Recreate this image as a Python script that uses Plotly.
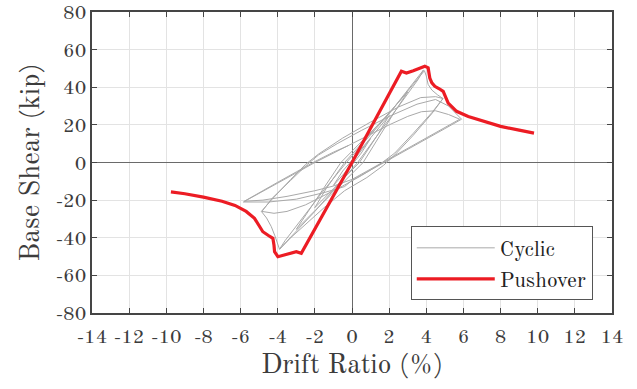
import plotly.graph_objects as go

# Cyclic test (drift %, base shear kip), in loading order
cyc_drift = [0.0, 1.0, 0.5, 0.1, -1.0, -0.5, -0.1,
             2.0, 1.4, 0.4, -2.0, -1.4, -0.4,
             3.0, 2.3, 0.6, -3.0, -2.3, -0.6,
             2.0, 3.85, 3.55, 1.5, 0.3, -2.0, -3.9, -3.6, -1.5, -0.3, 2.0, 3.9,
             4.0, 4.1, 4.3, 4.6, 4.9,
             4.3, 3.3, 2.3, 1.7, 0.8, -0.4, -1.5, -2.5, -3.3, -3.9,
             -4.0, -4.15, -4.35, -4.6, -4.88,
             -4.3, -3.3, -2.5, -1.8, -0.5, 1.0, 2.5, 3.7, 4.5, 4.9,
             4.3, 3.3, 2.3, 1.5, 0.5, -0.5, -1.5, -2.5, -3.5, -4.2, -4.85,
             -4.3, -3.3, -2.4, -1.8, -0.8, 0.5, 2.0, 3.5, 4.5, 5.2, 5.9,
             5.0, 4.0, 3.0, 2.0, 1.0, 0.0, -0.4, -1.5, -3.0, -4.5, -5.85,
             -5.0, -4.0, -3.0, -2.0, -1.0, 0.0, 1.0, 2.0, 3.0, 3.74, 4.5, 5.2, 5.8,
             5.0, 4.0, 3.0, 2.0, 1.0, 0.0, -1.0, -2.0, -3.5, -4.8, -5.8,
             -5.0, -4.0, -3.0, -2.0, -1.0, -0.2]
cyc_shear = [0.0, 12.8, 5.0, 0.0, -12.2, -4.5, 0.0,
             25.0, 15.0, 0.0, -24.0, -14.0, 0.0,
             37.5, 27.0, 0.0, -35.5, -25.0, 0.0,
             26.0, 49.2, 44.0, 16.5, 0.0, -26.0, -46.0, -41.5, -14.5, 0.0, 26.0, 48.8,
             46.0, 41.5, 38.5, 36.0, 34.0,
             26.0, 14.5, 4.0, -1.5, -8.0, -15.0, -24.0, -33.0, -40.0, -46.2,
             -43.0, -39.0, -34.0, -29.5, -26.0,
             -19.5, -9.0, -1.0, 4.5, 13.0, 21.5, 29.5, 34.5, 35.0, 34.0,
             26.5, 15.5, 5.0, -1.0, -7.0, -12.5, -17.5, -22.5, -26.0, -27.0, -26.0,
             -19.0, -9.5, -1.0, 4.0, 10.0, 17.0, 24.5, 31.0, 33.5, 30.0, 23.0,
             18.0, 12.5, 7.0, 1.5, -4.0, -9.5, -12.8, -16.0, -19.5, -21.0, -21.0,
             -16.5, -11.0, -5.5, 0.0, 5.0, 10.3, 15.0, 20.0, 24.5, 27.0, 27.5, 25.5, 23.0,
             18.5, 13.0, 7.5, 2.0, -3.5, -9.0, -12.5, -15.0, -18.0, -20.0, -20.6,
             -16.0, -10.5, -5.0, 0.5, 5.5, 9.0]

# Pushover curve
push_drift = [-9.75, -9.0, -8.0, -7.0, -6.3, -5.7, -5.25, -4.98, -4.8, -4.5, -4.26,
              -4.2, -4.17, -3.99, -3.63, -3.3, -3.0, -2.73, 0.0, 2.66, 2.93, 3.3,
              3.65, 3.92, 4.1, 4.19, 4.3, 4.46, 4.7, 4.91, 5.18, 5.63, 6.26, 7.0,
              8.0, 9.0, 9.8]
push_shear = [-15.6, -16.6, -18.4, -20.6, -22.8, -26.0, -29.7, -34.1, -36.8, -38.8, -40.3,
              -44.0, -47.4, -50.1, -49.2, -48.0, -47.4, -48.3, 0.0, 48.5, 47.6, 48.8,
              50.3, 51.2, 50.3, 44.9, 42.3, 40.5, 39.2, 37.8, 31.6, 27.2, 24.5, 22.2,
              19.2, 17.2, 15.6]

x_ticks = [-14, -12, -10, -8, -6, -4, -2, 0, 2, 4, 6, 8, 10, 12, 14]
x_labels = ["-14", "-12", "-10", "-8", "-6", "-4", "-2", "0", "2", "4", "6", "8", "10", "12", "14"]
y_ticks = [-80, -60, -40, -20, 0, 20, 40, 60, 80]
y_labels = ["-80", "-60", "-40", "-20", "0", "20", "40", "60", "80"]

FONT = "Old Standard TT, Liberation Serif, serif"
TXT = "#3c3c3c"
AX = "#454545"

fig = go.Figure()
fig.add_trace(go.Scatter(x=cyc_drift, y=cyc_shear, mode="lines", name="Cyclic",
                         line=dict(color="#a9a9a9", width=1.0)))
fig.add_trace(go.Scatter(x=push_drift, y=push_shear, mode="lines", name="Pushover",
                         line=dict(color="#ec1c24", width=3.2)))

axis_common = dict(showline=True, linecolor=AX, linewidth=1.5, mirror="ticks",
                   ticks="inside", ticklen=5, tickcolor=AX, tickwidth=1,
                   showgrid=True, gridcolor="#e3e3e3", gridwidth=1,
                   zeroline=True, zerolinecolor="#6a6a6a", zerolinewidth=1,
                   automargin=False)

fig.update_xaxes(range=[-14, 14], tickvals=x_ticks, ticktext=x_labels,
                 tickfont=dict(family=FONT, size=20, color=TXT), ticklabelstandoff=4,
                 title=dict(text="Drift Ratio (%)", font=dict(family=FONT, size=27.5, color=TXT), standoff=7),
                 **axis_common)
fig.update_yaxes(range=[-80, 80], tickvals=y_ticks, ticktext=y_labels,
                 tickfont=dict(family=FONT, size=20, color=TXT),
                 title=dict(text="Base Shear (kip)", font=dict(family=FONT, size=27.5, color=TXT), standoff=8),
                 **axis_common)

fig.update_layout(
    width=637, height=389,
    font=dict(family=FONT, size=20, color=TXT),
    margin=dict(l=92, r=25, t=12, b=76),
    plot_bgcolor="white", paper_bgcolor="white",
    legend=dict(x=0.963, y=0.042, xanchor="right", yanchor="bottom",
                bgcolor="white", bordercolor="#555555", borderwidth=1,
                font=dict(family=FONT, size=21.5, color="#222222"),
                itemwidth=78, tracegroupgap=0),
    showlegend=True,
)

fig.write_html("out.html")
